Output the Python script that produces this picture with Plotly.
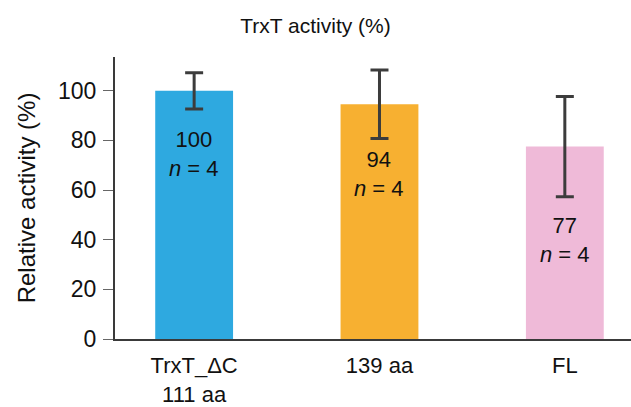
import plotly.graph_objects as go

categories = ["TrxT_ΔC<br>111 aa", "139 aa", "FL"]
values = [100, 94.6, 77.5]
errors = [7.3, 13.8, 20.2]
value_labels = ["100", "94", "77"]
n_labels = ["4", "4", "4"]
colors = ["#2ea9e0", "#f7b031", "#efbad8"]
label_y = [74.4, 66.6, 39.8]
y_ticks = [0, 20, 40, 60, 80, 100]

FONT = "Liberation Sans, Arial, Helvetica, sans-serif"

fig = go.Figure()
fig.add_trace(go.Bar(
    x=list(range(len(categories))),
    y=values,
    width=0.42,
    marker=dict(color=colors, line=dict(width=0)),
    error_y=dict(type="data", array=errors, visible=True,
                 color="#3c3c3c", thickness=3, width=9),
    showlegend=False,
    hoverinfo="skip",
))

for i, (v, n, yy) in enumerate(zip(value_labels, n_labels, label_y)):
    fig.add_annotation(
        x=i, y=yy, xref="x", yref="y",
        text=f"{v}<br><i>n</i> = {n}",
        showarrow=False,
        font=dict(family=FONT, size=22, color="#111111"),
        align="center",
    )

fig.update_layout(
    width=631, height=407,
    margin=dict(l=115, r=0, t=57, b=66),
    paper_bgcolor="white",
    plot_bgcolor="white",
    title=dict(text="TrxT activity (%)", x=0.5, xref="container",
               xanchor="center", y=1 - 26 / 407, yanchor="middle",
               font=dict(family=FONT, size=21, color="#111111")),
    font=dict(family=FONT, size=22, color="#111111"),
)

fig.update_xaxes(
    range=[-0.427, 2.357],
    tickmode="array",
    tickvals=list(range(len(categories))),
    ticktext=categories,
    showline=True, linecolor="#3a3a3a", linewidth=2,
    ticks="", showgrid=False, zeroline=False,
    tickfont=dict(family=FONT, size=22, color="#111111"),
    ticklabelstandoff=6,
    fixedrange=True,
)

fig.update_yaxes(
    range=[0, 113.6],
    tickmode="array",
    tickvals=y_ticks,
    showline=True, linecolor="#3a3a3a", linewidth=2,
    ticks="outside", ticklen=10, tickcolor="#666666", tickwidth=1,
    showgrid=False, zeroline=False,
    tickfont=dict(family=FONT, size=23, color="#111111"),
    ticklabelstandoff=2,
    title=dict(text="Relative activity (%)", standoff=16,
               font=dict(family=FONT, size=24, color="#111111")),
    fixedrange=True,
)

fig.write_html(
    "out.html",
    config={"displayModeBar": False},
    post_script="document.body.style.margin='0';document.body.style.overflow='hidden';",
)
